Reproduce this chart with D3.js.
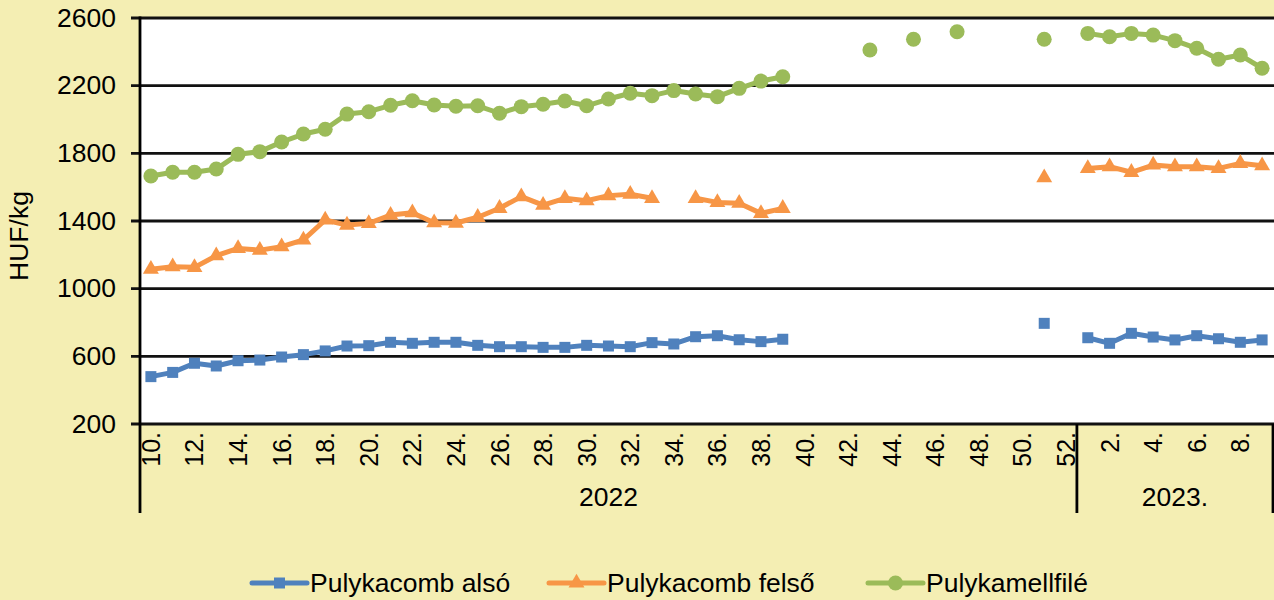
<!DOCTYPE html>
<html>
<head>
<meta charset="utf-8">
<script src="https://cdn.jsdelivr.net/npm/d3@7"></script>
<style>
  body { margin: 0; background: #F4EEB3; }
  svg text { font-family: "Liberation Sans", Arial, sans-serif; fill: #000; font-size: 25px; }
</style>
</head>
<body>
<svg id="chart" width="1274" height="600"></svg>
<script>
// weeks: 2022 wk 10..52, then 2023 wk 1..9
const weeks2022 = [10,11,12,13,14,15,16,17,18,19,20,21,22,23,24,25,26,27,28,29,30,31,32,33,34,35,36,37,38,39,40,41,42,43,44,45,46,47,48,49,50,51,52];
const weeks2023 = [1,2,3,4,5,6,7,8,9];
const years = ["2022", "2023."];
const yTicks = [200, 600, 1000, 1400, 1800, 2200, 2600];

const also = [480,505,559,543,574,578,596,610,632,661,663,683,677,683,683,665,657,657,653,653,665,661,657,681,673,716,722,698,687,701,
  null,null,null,null,null,null,null,null,null,null,null,795,null,
  710,677,736,714,697,722,704,683,697];
const felso = [1115,1130,1126,1195,1238,1228,1248,1288,1406,1376,1386,1435,1449,1390,1388,1422,1475,1544,1494,1534,1520,1550,1558,1534,null,1534,1510,1505,1445,1475,
  null,null,null,null,null,null,null,null,null,null,null,1656,null,
  1711,1721,1688,1731,1721,1721,1711,1741,1727];
const mellfile = [1666,1688,1688,1707,1794,1810,1867,1914,1942,2032,2046,2084,2111,2086,2078,2081,2037,2076,2090,2109,2081,2121,2155,2141,2171,2151,2135,2184,2227,2253,
  null,null,null,2411,null,2474,null,2519,null,null,null,2474,null,
  2509,2489,2509,2499,2466,2421,2356,2381,2303];

const cats = weeks2022.map(w => ({year: 0, week: w}))
  .concat(weeks2023.map(w => ({year: 1, week: w})));

const series = [
  {name: "Pulykacomb alsó", values: also, color: "#4F81BD", marker: "square"},
  {name: "Pulykacomb felső", values: felso, color: "#F79646", marker: "triangle"},
  {name: "Pulykamellfilé", values: mellfile, color: "#9BBB59", marker: "circle"}
];

const plotL = 140, plotR = 1273, plotT = 18, plotB = 424;
const stretch = 1.06; // reference font runs a bit wider than Liberation Sans
const svg = d3.select("#chart");

const x = d3.scaleBand().domain(d3.range(cats.length)).range([plotL, plotR]);
const y = d3.scaleLinear().domain([200, 2600]).range([plotB, plotT]);

// plot area
svg.append("rect")
    .attr("x", plotL).attr("y", plotT)
    .attr("width", 1274 - plotL).attr("height", plotB - plotT)
    .attr("fill", "#fff");

// gridlines
svg.append("g")
    .selectAll("line")
    .data(yTicks)
    .join("line")
    .attr("x1", plotL - 9).attr("x2", 1274)
    .attr("y1", d => y(d)).attr("y2", d => y(d))
    .attr("stroke", "#111")
    .attr("stroke-width", 2.8);

// y axis labels
svg.append("g")
    .selectAll("text")
    .data(yTicks)
    .join("text")
    .attr("transform", d => `translate(116,${y(d)}) scale(${stretch},1)`)
    .attr("text-anchor", "end")
    .attr("dy", "0.35em")
    .text(d => d3.format("d")(d));

svg.append("line")
    .attr("x1", plotL).attr("x2", plotL)
    .attr("y1", plotT - 1.4).attr("y2", 513)
    .attr("stroke", "#000").attr("stroke-width", 2.8);

svg.append("text")
    .attr("transform", `translate(28,236) rotate(-90) scale(${stretch},1)`)
    .attr("text-anchor", "middle")
    .text("HUF/kg");

// x tick labels (every even week)
svg.append("g")
    .selectAll("text")
    .data(cats.map((c, i) => ({...c, i})).filter(c => c.week % 2 === 0))
    .join("text")
    .attr("transform", d => `translate(${x(d.i) + x.bandwidth() / 2},432) rotate(-90)`)
    .attr("text-anchor", "end")
    .attr("dy", "0.36em")
    .text(d => d.week + ".");

// year group lines and labels
const split = x(weeks2022.length);
[split, plotR].forEach(px => {
  svg.append("line")
      .attr("x1", px).attr("x2", px)
      .attr("y1", plotB).attr("y2", 513)
      .attr("stroke", "#000").attr("stroke-width", 2.8);
});
svg.append("text")
    .attr("transform", `translate(${(plotL + split) / 2},506) scale(${stretch},1)`)
    .attr("text-anchor", "middle")
    .text(years[0]);
svg.append("text")
    .attr("transform", `translate(${(split + plotR) / 2},506) scale(${stretch},1)`)
    .attr("text-anchor", "middle")
    .text(years[1]);

// series
const cx = i => x(i) + x.bandwidth() / 2;
const line = d3.line()
    .defined(d => d != null)
    .x((d, i) => cx(i))
    .y(d => y(d));

function drawMarker(g, type, color) {
  if (type === "square") {
    g.append("rect").attr("x", -5.5).attr("y", -5.5).attr("width", 11).attr("height", 11).attr("fill", color);
  } else if (type === "triangle") {
    g.append("path").attr("d", d3.symbol(d3.symbolTriangle, 110)()).attr("fill", color);
  } else {
    g.append("circle").attr("r", 7.5).attr("fill", color);
  }
}

series.forEach(s => {
  svg.append("path")
      .datum(s.values)
      .attr("d", line)
      .attr("fill", "none")
      .attr("stroke", s.color)
      .attr("stroke-width", 5)
      .attr("stroke-linejoin", "round");
  svg.append("g")
      .selectAll("g")
      .data(s.values.map((v, i) => ({v, i})).filter(d => d.v != null))
      .join("g")
      .attr("transform", d => `translate(${cx(d.i)},${y(d.v)})`)
      .each(function() { drawMarker(d3.select(this), s.marker, s.color); });
});

// legend
const legendX = [252, 549, 868];
series.forEach((s, k) => {
  const g = svg.append("g").attr("transform", `translate(${legendX[k]},583)`);
  g.append("line")
      .attr("x1", 0).attr("x2", 55)
      .attr("stroke", s.color).attr("stroke-width", 5)
      .attr("stroke-linecap", "round");
  drawMarker(g.append("g").attr("transform", "translate(27.5,0)"), s.marker, s.color);
  g.append("text")
      .attr("transform", `translate(58,0) scale(${stretch},1)`)
      .attr("dy", "0.35em")
      .text(s.name);
});
</script>
</body>
</html>
